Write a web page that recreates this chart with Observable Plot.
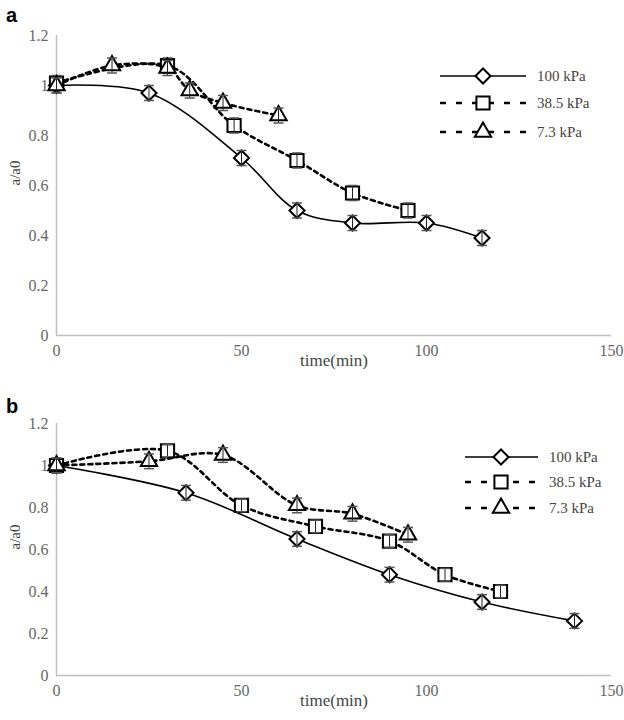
<!DOCTYPE html>
<html>
<head>
<meta charset="utf-8">
<script src="https://cdn.jsdelivr.net/npm/d3@7"></script>
<script src="https://cdn.jsdelivr.net/npm/@observablehq/plot@0.6"></script>
<style>
  body { margin: 0; background: white; }
  #wrap { position: relative; width: 624px; height: 720px; }
  .panel-label { position: absolute; font-family: "Liberation Sans", Arial, sans-serif; font-weight: bold; font-size: 20px; color: #000; }
  svg { display: block; }
</style>
</head>
<body>
<div id="wrap">
  <div class="panel-label" style="left:6px; top:4px;">a</div>
  <div class="panel-label" style="left:6px; top:395px;">b</div>
  <div id="pa"></div>
  <div id="pb"></div>
</div>
<script>
// ---------- Data ----------
const seriesNames = ["100 kPa", "38.5 kPa", "7.3 kPa"];
const xTicks = [0, 50, 100, 150];
const yTicks = [0, 0.2, 0.4, 0.6, 0.8, 1.0, 1.2];
const xTitle = "time(min)";
const yTitle = "a/a0";

// Panel a
const timeA100 = [0, 25, 50, 65, 80, 100, 115];
const valA100  = [1.0, 0.97, 0.71, 0.50, 0.45, 0.45, 0.39];
const errA100  = [0.03, 0.03, 0.03, 0.03, 0.03, 0.03, 0.03];

const timeA385 = [0, 30, 48, 65, 80, 95];
const valA385  = [1.01, 1.08, 0.84, 0.70, 0.57, 0.50];
const errA385  = [0.03, 0.03, 0.03, 0.03, 0.03, 0.03];

const timeA73 = [0, 15, 30, 36, 45, 60];
const valA73  = [1.0, 1.08, 1.07, 0.98, 0.93, 0.88];
const errA73  = [0.03, 0.03, 0.03, 0.03, 0.03, 0.03];

// Panel b
const timeB100 = [0, 35, 65, 90, 115, 140];
const valB100  = [1.0, 0.87, 0.65, 0.48, 0.35, 0.26];
const errB100  = [0.035, 0.035, 0.035, 0.035, 0.035, 0.035];

const timeB385 = [0, 30, 50, 70, 90, 105, 120];
const valB385  = [1.0, 1.07, 0.81, 0.71, 0.64, 0.48, 0.40];
const errB385  = [0.035, 0.03, 0.03, 0.03, 0.03, 0.03, 0.03];

const timeB73 = [0, 25, 45, 65, 80, 95];
const valB73  = [1.0, 1.02, 1.05, 0.81, 0.77, 0.67];
const errB73  = [0.035, 0.035, 0.035, 0.035, 0.035, 0.035];

// ---------- Helpers ----------
function rows(t, v, e) { return t.map((x, i) => ({t: x, v: v[i], e: e[i]})); }

const capSymbol = {
  draw(ctx, size) {
    const w = 5;
    ctx.moveTo(-w, 0); ctx.lineTo(w, 0);
  }
};

const SERIF = "Liberation Serif";

const styles = [
  {name: seriesNames[0], symbol: "diamond2", r: 6.8, dash: null, width: 1.6},
  {name: seriesNames[1], symbol: "square2", r: 8.4, dash: "4,4", width: 2.6},
  {name: seriesNames[2], symbol: "triangle2", r: 7.8, dash: "4,4", width: 2.6}
];

function seriesMarks(data, st) {
  return [
    Plot.line(data, {x: "t", y: "v", curve: "catmull-rom", stroke: "#000", strokeWidth: st.width, strokeDasharray: st.dash}),
    Plot.dot(data, {x: "t", y: "v", symbol: st.symbol, r: st.r, fill: "white", stroke: "#000", strokeWidth: 2}),
    Plot.ruleX(data, {x: "t", y1: d => d.v - d.e, y2: d => d.v + d.e, stroke: "#222", strokeWidth: 1}),
    Plot.dot(data, {x: "t", y: d => d.v + d.e, symbol: capSymbol, stroke: "#555", strokeWidth: 1.5, r: 3}),
    Plot.dot(data, {x: "t", y: d => d.v - d.e, symbol: capSymbol, stroke: "#555", strokeWidth: 1.5, r: 3})
  ];
}

function makePanel(seriesData, height, marginTop) {
  const marginBottom = 45;
  const chart = Plot.plot({
    width: 624,
    height,
    marginTop,
    marginBottom,
    marginLeft: 56,
    marginRight: 13,
    style: {fontFamily: SERIF, background: "white", overflow: "visible", color: "#666"},
    x: {domain: [0, 150]},
    y: {domain: [0, 1.2]},
    marks: [
      Plot.ruleX([0], {stroke: "#bfbfbf", strokeWidth: 1.5}),
      Plot.ruleY([0], {stroke: "#bfbfbf", strokeWidth: 1.5}),
      Plot.axisX({ticks: xTicks, tickSize: 0, tickPadding: 9, label: null, fontSize: 16, fontFamily: SERIF, fill: "#666"}),
      Plot.axisY({ticks: yTicks, tickSize: 0, tickPadding: 8, label: null, fontSize: 16, fontFamily: SERIF, fill: "#666",
                  tickFormat: d => d3.format("~g")(+d.toFixed(1))}),
      Plot.text([xTitle], {text: d => d, frameAnchor: "bottom", dy: 30, fontSize: 17, fontFamily: SERIF, fill: "#444"}),
      Plot.text([yTitle], {text: d => d, frameAnchor: "left", dx: -41, rotate: -90, fontSize: 15, fontFamily: SERIF, fill: "#444"}),
      ...seriesMarks(seriesData[0], styles[0]),
      ...seriesMarks(seriesData[1], styles[1]),
      ...seriesMarks(seriesData[2], styles[2])
    ]
  });
  return chart;
}

function addLegend(svg, x0, x1, xm, xt, ys) {
  const g = d3.select(svg).append("g").attr("text-anchor", "start").style("text-anchor", "start");
  const symMap = {diamond2: d3.symbolDiamond2, square2: d3.symbolSquare2, triangle2: d3.symbolTriangle2};
  styles.forEach((st, i) => {
    const y = ys[i];
    g.append("line").attr("x1", x0).attr("x2", x1).attr("y1", y).attr("y2", y)
      .attr("stroke", "#000").attr("stroke-width", st.dash ? 2.6 : 1.6)
      .attr("stroke-dasharray", st.dash ? "6,10" : null);
    g.append("path").attr("d", d3.symbol(symMap[st.symbol], Math.PI * st.r * st.r)())
      .attr("transform", `translate(${xm},${y})`)
      .attr("fill", "white").attr("stroke", "#000").attr("stroke-width", 2);
    g.append("text").attr("x", xt).attr("y", y).attr("dy", "0.35em")
      .attr("fill", "#444").attr("font-size", 15).attr("font-family", SERIF).text(st.name);
  });
}

const A = makePanel([rows(timeA100, valA100, errA100), rows(timeA385, valA385, errA385), rows(timeA73, valA73, errA73)], 380, 35);
addLegend(A, 440, 526, 483, 537, [76, 103, 132]);
document.getElementById("pa").appendChild(A);

const B = makePanel([rows(timeB100, valB100, errB100), rows(timeB385, valB385, errB385), rows(timeB73, valB73, errB73)], 340, 43);
addLegend(B, 465, 538, 501, 549, [77, 102, 128]);
document.getElementById("pb").appendChild(B);
</script>
</body>
</html>
